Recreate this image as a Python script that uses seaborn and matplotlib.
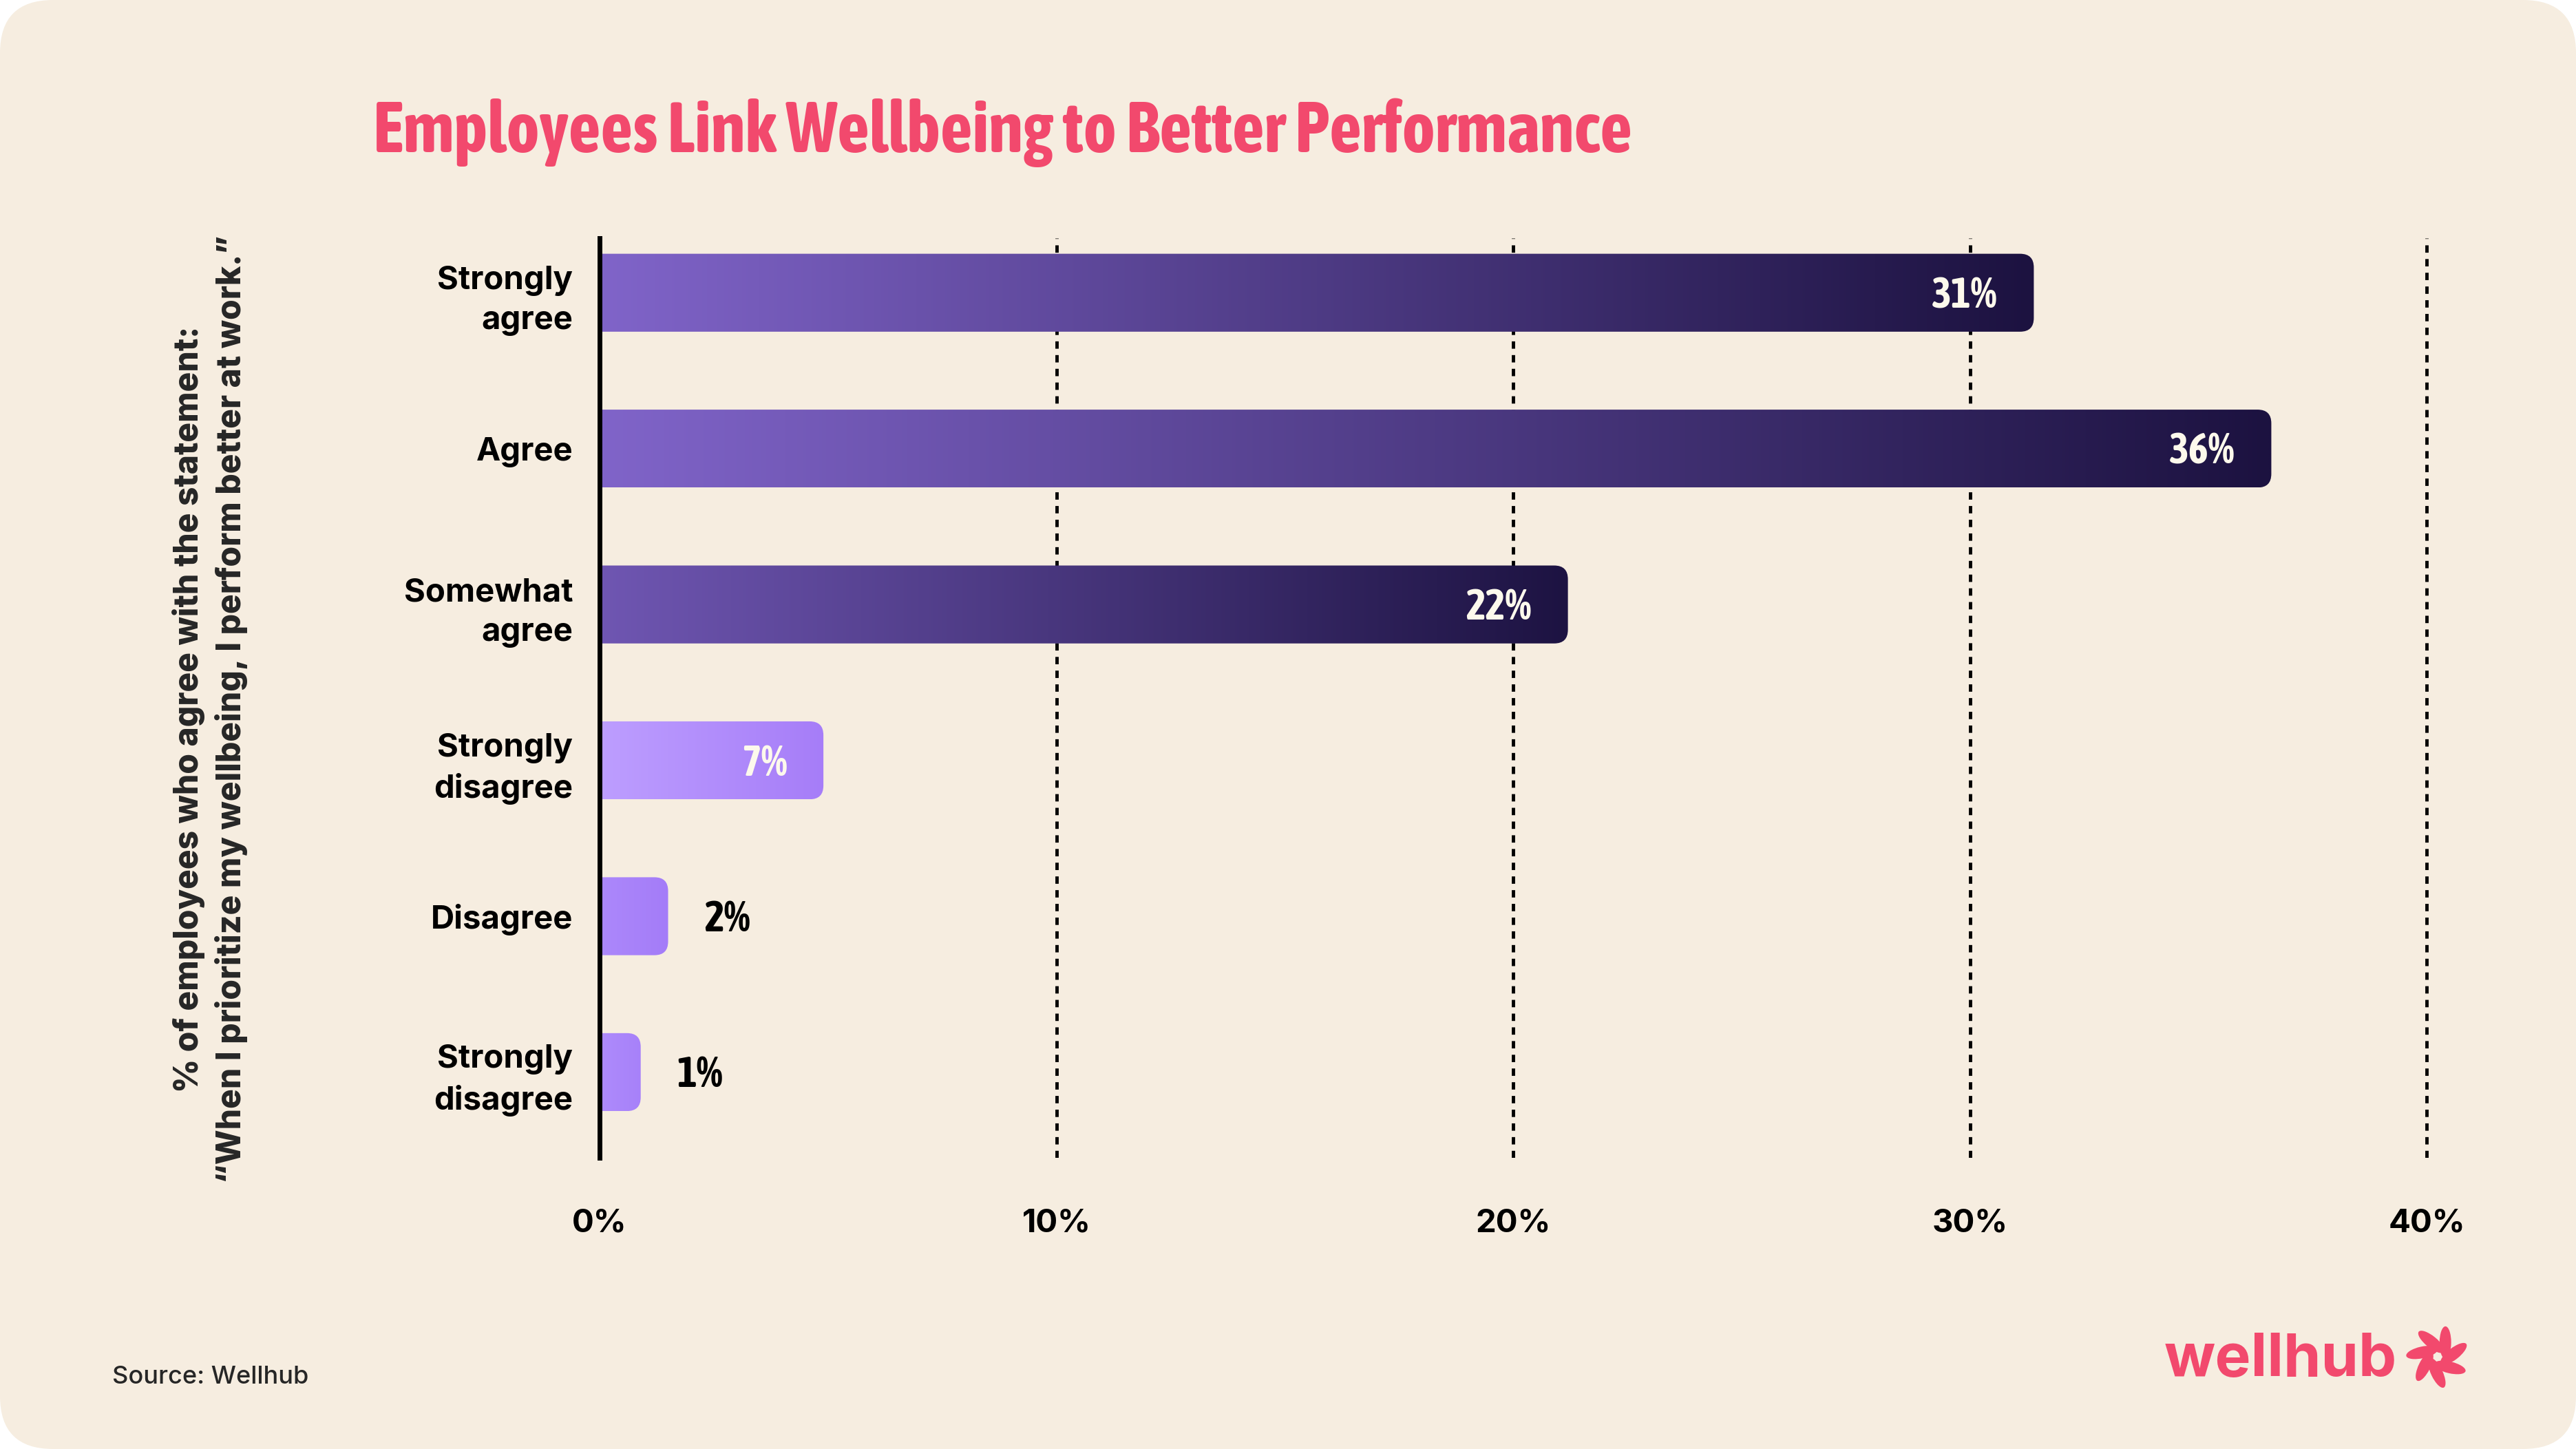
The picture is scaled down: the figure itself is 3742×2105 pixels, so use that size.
import numpy as np
import pandas as pd
import matplotlib
matplotlib.use('Agg')
import matplotlib.pyplot as plt
import matplotlib.font_manager as fm
from matplotlib.patches import FancyBboxPatch, PathPatch, Ellipse
from matplotlib.path import Path
from matplotlib.colors import to_rgb
import seaborn as sns

# values
categories = ['Strongly\nagree', 'Agree', 'Somewhat\nagree',
              'Strongly\ndisagree', 'Disagree', 'Strongly\ndisagree']
bar_values = [31.4, 36.6, 21.2, 4.9, 1.5, 0.9]
value_labels = ['31%', '36%', '22%', '7%', '2%', '1%']
x_ticks = [0, 10, 20, 30, 40]
x_tick_labels = ['0%', '10%', '20%', '30%', '40%']

# gradient colours of each bar, left -> right
grad_start = ['#8064c9', '#8064c9', '#6f56b2', '#bd9eff', '#ac88fb', '#ae8bfc']
grad_end = ['#1c1240', '#1c1240', '#1d1342', '#a67df8', '#a47cf8', '#a781f9']

bg = '#f6ede0'
pink = '#f2496d'
cream = '#fdf9ec'


def weight_of(f):
    return f.weight if isinstance(f.weight, int) else fm.weight_dict.get(f.weight, 400)


def has_bold(name):
    return any(f.name == name and weight_of(f) >= 600 for f in fm.fontManager.ttflist)


def find_narrow():
    # a bold condensed face if the system has one
    for f in fm.fontManager.ttflist:
        if weight_of(f) >= 600 and ('Narrow' in f.name or 'Condensed' in f.name):
            return f.name, 'normal'
    for f in fm.fontManager.ttflist:
        if weight_of(f) >= 600 and f.stretch in ('condensed', 'semi-condensed', 'extra-condensed'):
            return f.name, f.stretch
    return None, 'normal'


body_font = next((n for n in ['Inter', 'Roboto', 'Liberation Sans'] if has_bold(n)), 'DejaVu Sans')
narrow_font, narrow_stretch = find_narrow()
if narrow_font is None:
    narrow_font = body_font

sns.set_theme(style='white')
plt.rcParams['font.family'] = [body_font, 'DejaVu Sans']
plt.rcParams['font.weight'] = 'bold'

W, H = 3742, 2105
fig = plt.figure(figsize=(W / 100, H / 100), dpi=100, facecolor='white')
fig.add_artist(FancyBboxPatch((0, 0), W / 100, H / 100,
                              boxstyle='round,pad=0,rounding_size=0.77',
                              transform=fig.dpi_scale_trans, fc=bg, ec='none', zorder=-10))

# axes box in pixels: x=0 at 871, 66.35 px per percent, top 346, bottom 1682
ax = fig.add_axes([871 / W, 1 - 1682 / H, 40.3 * 66.35 / W, (1682 - 346) / H])
ax.set_facecolor('none')

df = pd.DataFrame({'pos': range(len(categories)), 'value': bar_values})
sns.barplot(data=df, x='value', y='pos', orient='y', width=0.5,
            color=grad_start[0], ax=ax)

# swap the flat bars for gradient bars with rounded right ends
rx, ry = 0.30, 0.088
bars = list(ax.patches)
for bar, c0, c1 in zip(bars, grad_start, grad_end):
    x0, y0 = bar.get_x(), bar.get_y()
    x1, y1 = x0 + bar.get_width(), y0 + bar.get_height()
    bar.set_visible(False)
    verts = [(x0, y0), (x1 - rx, y0), (x1, y0), (x1, y0 + ry), (x1, y1 - ry),
             (x1, y1), (x1 - rx, y1), (x0, y1), (x0, y0)]
    codes = [Path.MOVETO, Path.LINETO, Path.CURVE3, Path.CURVE3, Path.LINETO,
             Path.CURVE3, Path.CURVE3, Path.LINETO, Path.CLOSEPOLY]
    shape = PathPatch(Path(verts, codes), fc='none', ec='none')
    ax.add_patch(shape)
    grad = np.linspace(to_rgb(c0), to_rgb(c1), 256)[None, :, :]
    im = ax.imshow(grad, extent=(x0, x1, y1, y0), aspect='auto',
                   interpolation='bilinear', zorder=2)
    im.set_clip_path(shape)

value_size = 44 if narrow_font != body_font else 40
for i, (v, lab) in enumerate(zip(bar_values, value_labels)):
    inside = v > 3
    ax.annotate(lab, xy=(v, i), xytext=(-38 if inside else 38, -0.36 * value_size),
                textcoords='offset points', ha='right' if inside else 'left',
                va='baseline', color=cream if inside else 'black',
                fontsize=value_size, fontweight='bold', fontstretch=narrow_stretch,
                family=[narrow_font, 'DejaVu Sans'], zorder=5)

ax.set_xlim(0, 40.3)
ax.set_ylim(5.55, -0.35)
ax.set_xticks(x_ticks, labels=x_tick_labels)
ax.set_yticks(range(len(categories)), labels=categories)
ax.set_xlabel('')
ax.set_ylabel('')
ax.tick_params(axis='both', length=0, labelsize=34, colors='black')
ax.tick_params(axis='y', pad=28)
ax.tick_params(axis='x', pad=53)
for lab in ax.get_yticklabels():
    lab.set_linespacing(1.4)

ax.set_axisbelow(True)
ax.grid(axis='x', color='black', linestyle=(0, (2.2, 1.9)), linewidth=3.5)
ax.grid(axis='y', visible=False)
sns.despine(ax=ax, top=True, right=True, bottom=True)
ax.spines['left'].set_linewidth(5)
ax.spines['left'].set_color('black')
ax.spines['left'].set_zorder(6)

fig.text(0.0815, 0.5105,
         '% of employees who agree with the statement:\n'
         '\u201cWhen I prioritize my wellbeing, I perform better at work.\u201d',
         rotation=90, ha='center', va='center', multialignment='center',
         fontsize=34.5, fontweight='heavy', linespacing=1.35)

title = fig.text(542 / W, 1 - 221 / H, 'Employees Link Wellbeing to Better Performance',
                 color=pink, fontsize=68, fontweight='bold', fontstretch=narrow_stretch,
                 family=[narrow_font, 'DejaVu Sans'], va='baseline')
# fit the title to its width in the picture
renderer = fig.canvas.get_renderer()
tw = title.get_window_extent(renderer).width
title.set_fontsize(68 * 1831 / tw)

fig.text(163 / W, 1 - 2010 / H, 'Source: Wellhub', fontsize=26,
         fontweight='medium', va='baseline')

# logo
fig.text(3144 / W, 1 - 1999 / H, 'wellhub', color=pink, fontsize=63,
         fontweight='bold', va='baseline')
lax = fig.add_axes([3494 / W, 1 - 2018 / H, 94 / W, 94 / H])
lax.set_xlim(-1, 1)
lax.set_ylim(-1, 1)
lax.set_aspect('equal')
lax.axis('off')
for k in range(7):
    th = 113 - k * 360 / 7
    t = np.deg2rad(th)
    lax.add_patch(Ellipse((0.5 * np.cos(t), 0.5 * np.sin(t)), 1.0, 0.36,
                          angle=th + 28, fc=pink, ec='none'))

fig.savefig('out.png', dpi=100, facecolor='white')
